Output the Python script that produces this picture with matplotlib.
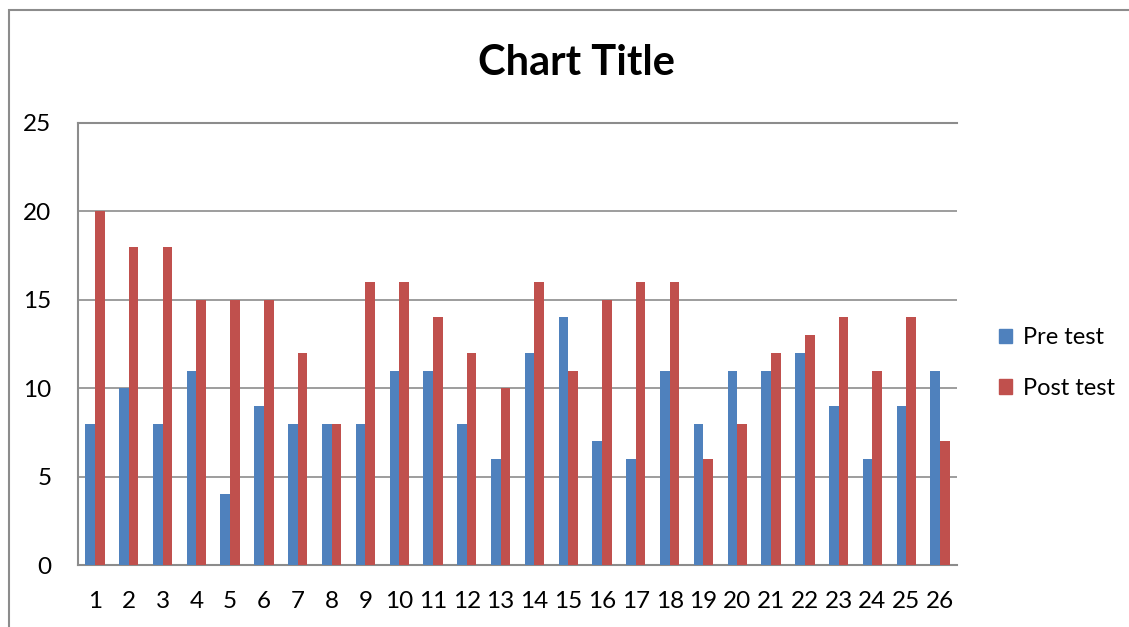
import matplotlib
matplotlib.use("Agg")
import matplotlib.pyplot as plt
from matplotlib.patches import Rectangle, Patch
import numpy as np

categories = [str(i) for i in range(1, 27)]
pre_test = [8, 10, 8, 11, 4, 9, 8, 8, 8, 11, 11, 8, 6, 12, 14, 7, 6, 11, 8, 11, 11, 12, 9, 6, 9, 11]
post_test = [20, 18, 18, 15, 15, 15, 12, 8, 16, 16, 14, 12, 10, 16, 11, 15, 16, 16, 6, 8, 12, 13, 14, 11, 14, 7]
y_ticks = [0, 5, 10, 15, 20, 25]

plt.rcParams['font.family'] = ['Lato', 'DejaVu Sans']

W, H = 1129, 627
fig = plt.figure(figsize=(W / 100, H / 100), dpi=100)
fig.patch.set_facecolor('white')

# outer chart border
fig.patches.append(Rectangle((9 / W, -0.1), 1.2, 1 - 10 / H + 0.1, transform=fig.transFigure,
                             fill=False, edgecolor='#8c8c8c', linewidth=1.5))

left, right, top, bottom = 78, 957, 123, 565
ax = fig.add_axes([left / W, 1 - bottom / H, (right - left) / W, (bottom - top) / H])

x = np.arange(len(categories))
w = 1 / 3.5
ax.bar(x - w / 2, pre_test, width=w, color='#4F81BD', label='Pre test', zorder=3)
ax.bar(x + w / 2, post_test, width=w, color='#C0504D', label='Post test', zorder=3)

ax.set_xlim(-0.5, len(categories) - 0.5)
ax.set_ylim(0, 25)
ax.set_yticks(y_ticks)
ax.set_xticks(x)
ax.set_xticklabels(categories)
ax.tick_params(axis='both', length=0, labelsize=17.5, colors='black')
ax.tick_params(axis='x', pad=19)
ax.tick_params(axis='y', pad=19)
ax.grid(axis='y', color='#8c8c8c', linewidth=1.2, zorder=0)
for s in ax.spines.values():
    s.set_color('#8c8c8c')
    s.set_linewidth(1.5)
ax.spines['right'].set_visible(False)

fig.text(576 / W, 1 - 63 / H, 'Chart Title', ha='center', va='center', fontsize=30, fontweight='bold')

handles = [Patch(color='#4F81BD', label='Pre test'), Patch(color='#C0504D', label='Post test')]
fig.legend(handles=handles, loc='center left', bbox_to_anchor=(978 / W, 1 - 363 / H),
           frameon=False, fontsize=17, handlelength=0.55, handleheight=0.55,
           handletextpad=0.45, labelspacing=1.25)

fig.savefig('out.png', dpi=100)
